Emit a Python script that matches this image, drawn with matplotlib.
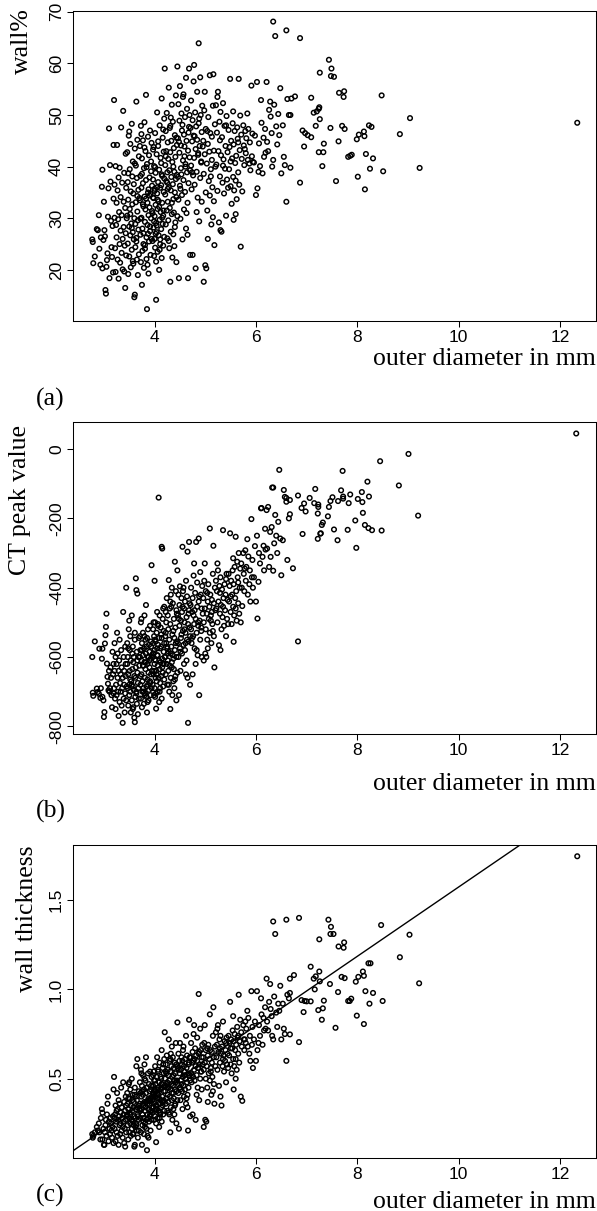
# three scatter plots of airway measurements against outer diameter
import numpy as np
import matplotlib
matplotlib.use("Agg")
import matplotlib.pyplot as plt

# points left of x~6.67, shared by all three panels
diam = [
    2.77, 2.78, 2.79, 2.82, 2.86, 2.88, 2.90, 2.91, 2.93, 2.94,
    2.96, 2.97, 2.97, 2.99, 3.00, 3.01, 3.02, 3.03, 3.04, 3.05,
    3.06, 3.07, 3.08, 3.09, 3.10, 3.11, 3.12, 3.13, 3.14, 3.15,
    3.16, 3.17, 3.18, 3.19, 3.19,
    3.20, 3.21, 3.21, 3.22, 3.23, 3.23, 3.24, 3.25, 3.25, 3.26,
    3.27, 3.27, 3.28, 3.29, 3.29, 3.30, 3.31, 3.31, 3.32, 3.33,
    3.33, 3.34, 3.35, 3.35, 3.36, 3.37, 3.37, 3.38, 3.39, 3.39,
    3.40, 3.40, 3.41, 3.42, 3.42, 3.43, 3.43, 3.44, 3.44, 3.45,
    3.46, 3.46, 3.47, 3.47, 3.48, 3.48, 3.49, 3.50, 3.50, 3.51,
    3.51, 3.52, 3.52, 3.53, 3.53, 3.54, 3.55, 3.55, 3.56, 3.56,
    3.57, 3.57, 3.58, 3.58, 3.59, 3.59, 3.60, 3.60, 3.61, 3.61,
    3.62, 3.62, 3.63, 3.63, 3.64, 3.64, 3.65, 3.65, 3.66, 3.66,
    3.67, 3.67, 3.68, 3.68, 3.69, 3.69, 3.70, 3.48, 3.52, 3.57,
    3.61, 3.64, 3.66, 3.50, 3.55,
    3.71, 3.71, 3.72, 3.72, 3.73, 3.73, 3.74, 3.74, 3.75, 3.75,
    3.76, 3.76, 3.77, 3.77, 3.78, 3.78, 3.79, 3.79, 3.80, 3.80,
    3.81, 3.81, 3.82, 3.82, 3.83, 3.83, 3.84, 3.84, 3.85, 3.85,
    3.86, 3.86, 3.87, 3.87, 3.88, 3.88, 3.89, 3.89, 3.90, 3.90,
    3.91, 3.91, 3.92, 3.92, 3.93, 3.93, 3.94, 3.94, 3.95, 3.95,
    3.72, 3.75, 3.78, 3.80, 3.83, 3.86, 3.88, 3.91, 3.93, 3.74,
    3.77, 3.81, 3.84, 3.87, 3.90,
    3.96, 3.96, 3.97, 3.97, 3.98, 3.98, 3.99, 3.99, 4.00, 4.00,
    4.00, 4.01, 4.01, 4.02, 4.02, 4.03, 4.03, 4.04, 4.04, 4.05,
    4.05, 4.06, 4.06, 4.07, 4.07, 4.08, 4.08, 4.09, 4.09, 4.10,
    4.10, 4.11, 4.11, 4.12, 4.12, 4.13, 4.13, 4.14, 4.14, 4.15,
    4.15, 4.16, 4.16, 4.17, 4.17, 4.18, 4.18, 4.19, 4.19, 4.20,
    3.97, 3.99, 4.01, 4.03, 4.05, 4.07, 4.09, 4.11, 4.13, 4.15,
    4.17, 4.19, 3.98, 4.02, 4.06, 4.10, 4.14, 4.18, 4.00, 4.04,
    4.21, 4.21, 4.22, 4.22, 4.23, 4.23, 4.24, 4.24, 4.25, 4.25,
    4.26, 4.26, 4.27, 4.27, 4.28, 4.28, 4.29, 4.29, 4.30, 4.30,
    4.31, 4.31, 4.32, 4.32, 4.33, 4.33, 4.34, 4.34, 4.35, 4.35,
    4.36, 4.36, 4.37, 4.37, 4.38, 4.38, 4.39, 4.39, 4.40, 4.40,
    4.41, 4.41, 4.42, 4.42, 4.43, 4.43, 4.44, 4.44, 4.45, 4.45,
    4.22, 4.25, 4.28, 4.31, 4.34, 4.37, 4.40, 4.43, 4.26, 4.32,
    4.46, 4.46, 4.47, 4.47, 4.48, 4.49, 4.49, 4.50, 4.50, 4.51,
    4.52, 4.52, 4.53, 4.54, 4.54, 4.55, 4.56, 4.56, 4.57, 4.58,
    4.58, 4.59, 4.60, 4.60, 4.61, 4.62, 4.62, 4.63, 4.64, 4.64,
    4.65, 4.66, 4.66, 4.67, 4.68, 4.68, 4.69, 4.70, 4.70, 4.48,
    4.51, 4.55, 4.59, 4.63, 4.67, 4.53, 4.57, 4.61, 4.65, 4.69,
    4.71, 4.72, 4.72, 4.73, 4.74, 4.75, 4.75, 4.76, 4.77, 4.78,
    4.78, 4.79, 4.80, 4.81, 4.81, 4.82, 4.83, 4.84, 4.84, 4.85,
    4.86, 4.87, 4.87, 4.88, 4.89, 4.90, 4.90, 4.91, 4.92, 4.93,
    4.93, 4.94, 4.95, 4.74, 4.79, 4.83, 4.88, 4.92, 4.77, 4.86,
    4.96, 4.97, 4.97, 4.98, 4.99, 5.00, 5.01, 5.01, 5.02, 5.03,
    5.04, 5.05, 5.05, 5.06, 5.07, 5.08, 5.09, 5.09, 5.10, 5.11,
    5.12, 5.13, 5.13, 5.14, 5.15, 5.16, 5.17, 5.17, 5.18, 5.19,
    5.20, 4.99, 5.04, 5.11, 5.15,
    5.21, 5.22, 5.23, 5.24, 5.25, 5.26, 5.27, 5.28, 5.29, 5.30,
    5.30, 5.31, 5.32, 5.33, 5.34, 5.35, 5.36, 5.37, 5.38, 5.39,
    5.40, 5.41, 5.42, 5.43, 5.44, 5.45, 5.24, 5.29, 5.35, 5.41,
    5.46, 5.47, 5.48, 5.49, 5.50, 5.51, 5.52, 5.53, 5.54, 5.55,
    5.56, 5.56, 5.57, 5.58, 5.59, 5.60, 5.61, 5.62, 5.63, 5.64,
    5.65, 5.66, 5.67, 5.68, 5.69, 5.70, 5.50, 5.55, 5.60, 5.65,
    5.71, 5.72, 5.73, 5.75, 5.76, 5.77, 5.79, 5.80, 5.81, 5.83,
    5.84, 5.85, 5.87, 5.88, 5.89, 5.91, 5.92, 5.93, 5.94, 5.78,
    5.96, 5.98, 6.00, 6.02, 6.03, 6.05, 6.06, 6.08, 6.10, 6.11,
    6.13, 6.15, 6.16, 6.18, 6.19,
    6.21, 6.22, 6.24, 6.26, 6.28, 6.29, 6.31, 6.32, 6.34, 6.34,
    6.36, 6.38, 6.40, 6.42, 6.44,
    6.46, 6.48, 6.50, 6.53, 6.55, 6.57, 6.60, 6.60, 6.62, 6.65,
]

wall_pct = [
    25.9, 25.4, 21.3, 22.6, 27.9, 27.7, 30.6, 24.1, 21.0, 26.3,
    36.1, 39.4, 20.3, 25.8, 33.2, 27.7, 26.5, 16.1, 15.4, 20.6,
    21.9, 23.2, 30.3, 35.8, 47.4, 18.4, 40.3, 37.1, 29.5, 24.4,
    22.5, 28.5, 19.5, 33.8, 44.2,
    52.9, 36.5, 30.1, 24.2, 40.1, 19.6, 28.7, 33.0, 26.3, 44.2,
    22.0, 35.4, 29.8, 18.3, 37.9, 31.2, 25.0, 39.8, 21.4, 27.6,
    34.1, 47.6, 23.3, 30.6, 36.9, 26.0, 20.1, 50.8, 33.2, 28.3,
    19.7, 38.8, 24.7, 16.5, 32.0, 42.5, 27.1, 35.9, 22.8, 30.0,
    30.5, 42.8, 25.1, 37.0, 19.2, 33.6, 46.0, 28.4, 22.6, 39.5,
    31.8, 26.7, 44.4, 20.5, 35.2, 29.0, 48.3, 23.9, 38.1, 32.7,
    27.3, 41.0, 21.2, 34.8, 25.9, 36.6, 14.7, 30.0, 15.2, 43.5,
    28.9, 24.4, 40.2, 33.1, 52.6, 26.2, 37.8, 22.0, 31.3, 45.2,
    29.6, 19.0, 35.5, 27.8, 42.0, 23.0, 33.9, 38.7, 30.8, 21.7,
    40.6, 25.5, 34.3, 46.8, 28.1,
    33.5, 44.0, 26.8, 38.2, 21.5, 47.9, 30.1, 35.9, 17.1, 41.6,
    28.0, 23.7, 36.8, 45.1, 32.3, 27.1, 39.7, 20.4, 34.2, 48.6,
    29.3, 24.8, 43.0, 31.7, 53.9, 37.4, 26.3, 22.1, 12.4, 40.5,
    33.0, 28.7, 45.8, 35.0, 19.3, 30.6, 42.2, 25.5, 37.9, 32.1,
    27.5, 47.0, 34.7, 22.9, 39.1, 30.0, 44.6, 26.0, 36.3, 31.4,
    29.9, 38.6, 25.0, 43.7, 33.8, 21.0, 35.6, 28.4, 41.0, 46.3,
    32.7, 24.1, 39.9, 27.0, 34.4,
    31.0, 25.6, 37.5, 43.3, 28.2, 33.9, 22.7, 40.1, 30.4, 26.0,
    35.3, 46.5, 24.3, 32.6, 38.8, 14.2, 29.1, 42.4, 27.3, 34.8,
    50.5, 23.5, 31.8, 37.0, 44.9, 26.7, 33.3, 20.0, 39.4, 29.7,
    48.0, 35.9, 25.0, 41.7, 31.2, 27.9, 36.4, 53.2, 22.3, 33.0,
    38.2, 45.6, 28.9, 30.5, 24.7, 42.9, 35.1, 26.4, 49.3, 59.0,
    34.0, 29.4, 39.9, 21.6, 36.0, 44.0, 32.2, 25.9, 40.7, 30.1,
    47.2, 37.7, 43.8, 27.0, 33.6, 23.9, 38.5, 31.5, 35.7, 28.6,
    40.3, 34.6, 46.9, 28.8, 37.2, 43.0, 31.5, 50.4, 26.1, 38.9,
    44.7, 33.2, 29.6, 41.5, 36.0, 55.3, 24.2, 39.3, 47.5, 32.0,
    17.7, 42.8, 35.4, 27.4, 45.0, 38.0, 30.8, 52.0, 22.4, 40.9,
    36.6, 48.7, 33.7, 26.9, 43.6, 31.1, 39.0, 24.6, 46.1, 35.0,
    41.9, 29.2, 37.6, 53.8, 34.1, 21.5, 44.2, 38.4, 59.4, 30.4,
    42.0, 36.9, 25.6, 47.9, 33.0, 40.0, 28.3, 45.6, 35.7, 49.5,
    45.5, 38.0, 52.1, 33.6, 18.4, 42.7, 48.9, 36.3, 55.6, 29.9,
    44.1, 39.7, 50.3, 34.5, 47.0, 25.9, 41.2, 53.5, 37.4, 46.2,
    31.7, 43.9, 49.6, 35.1, 40.5, 57.2, 28.0, 45.0, 38.9, 51.2,
    33.0, 18.4, 43.1, 36.8, 59.0, 47.7, 41.8, 22.9, 39.3, 44.8,
    35.7, 48.1, 42.0, 31.0, 46.6, 38.5, 54.0, 40.0, 26.8, 50.0,
    47.5, 40.2, 52.8, 35.6, 44.9, 22.9, 49.0, 38.3, 46.0, 59.7,
    41.7, 36.5, 50.5, 43.4, 20.3, 47.8, 39.0, 54.5, 45.2, 34.0,
    42.6, 63.9, 48.4, 29.4, 44.0, 57.3, 37.8, 50.0, 41.0, 46.7,
    33.2, 51.8, 43.9, 38.9, 45.9, 31.2, 49.3, 40.8, 56.5, 42.3,
    45.0, 38.6, 17.7, 50.9, 42.4, 20.9, 35.0, 47.3, 20.3, 40.6,
    31.5, 44.4, 26.0, 49.6, 37.2, 42.9, 57.7, 34.4, 46.5, 39.5,
    28.8, 45.8, 41.3, 36.0, 51.8, 57.9, 43.1, 33.3, 24.8, 48.2,
    40.0, 54.5, 46.9, 38.1, 30.2,
    51.9, 40.4, 46.6, 35.3, 54.5, 43.0, 29.2, 48.7, 38.1, 27.7,
    50.6, 42.2, 27.4, 45.7, 36.9, 52.3, 41.4, 34.8, 47.9, 39.6,
    44.0, 30.5, 49.8, 37.5, 42.8, 35.9, 53.5, 45.1, 40.2, 48.0,
    47.1, 39.5, 43.8, 57.0, 36.2, 45.0, 32.8, 41.6, 48.4, 38.0,
    29.7, 44.3, 35.4, 46.9, 40.7, 30.8, 42.1, 33.7, 47.6, 45.4,
    38.9, 57.0, 36.5, 43.2, 49.9, 24.5, 41.0, 50.7, 37.3, 44.7,
    46.2, 41.5, 35.2, 48.0, 44.1, 40.3, 46.9, 42.6, 45.5, 50.3,
    41.3, 47.3, 40.6, 44.7, 39.3, 55.7, 42.0, 46.4, 40.9, 43.4,
    40.8, 46.0, 34.5, 56.4, 35.8, 39.0, 44.5, 40.1, 52.9, 48.5,
    38.7, 45.6, 41.9, 47.3, 42.7,
    56.4, 44.8, 43.0, 51.0, 52.6, 49.7, 46.5, 40.0, 68.1, 41.3,
    52.0, 65.3, 47.8, 44.3, 50.2,
    46.1, 55.2, 38.7, 48.0, 41.9, 40.3, 66.4, 33.2, 53.1, 50.0,
]

ct_peak = [
    -600, -703, -712, -555, -691, -701, -706, -576, -718, -690,
    -605, -576, -715, -725, -773, -759, -561, -537, -513, -475,
    -619, -657, -677, -696, -640, -700, -690, -630, -660, -710,
    -745, -585, -650, -705, -620,
    -690, -640, -560, -720, -600, -750, -680, -620, -710, -530,
    -660, -590, -700, -770, -640, -610, -730, -550, -675, -650,
    -700, -580, -740, -630, -690, -790, -660, -470, -720, -600,
    -640, -680, -760, -570, -705, -620, -655, -725, -400, -685,
    -620, -560, -690, -600, -740, -650, -520, -680, -710, -580,
    -640, -700, -540, -760, -610, -670, -480, -725, -590, -635,
    -685, -570, -745, -615, -695, -600, -775, -655, -788, -550,
    -660, -715, -373, -630, -407, -705, -585, -735, -645, -417,
    -675, -765, -600, -690, -545, -720, -625, -575, -665, -750,
    -530, -700, -610, -495, -680,
    -600, -540, -680, -580, -720, -500, -650, -610, -745, -560,
    -670, -700, -595, -530, -625, -690, -575, -735, -615, -480,
    -660, -705, -550, -635, -450, -590, -685, -715, -760, -545,
    -620, -665, -520, -600, -725, -645, -565, -695, -585, -630,
    -675, -510, -605, -710, -570, -650, -335, -690, -595, -640,
    -655, -580, -700, -540, -615, -730, -600, -670, -555, -490,
    -625, -710, -570, -680, -610,
    -600, -680, -560, -520, -650, -590, -710, -540, -620, -690,
    -580, -500, -715, -610, -555, -749, -640, -530, -670, -595,
    -470, -700, -625, -565, -505, -660, -140, -730, -545, -635,
    -480, -575, -690, -515, -615, -655, -570, -282, -720, -605,
    -287, -490, -645, -620, -685, -525, -585, -665, -455, -600,
    -590, -640, -550, -705, -575, -510, -610, -675, -535, -630,
    -460, -560, -500, -660, -595, -700, -545, -620, -380, -650,
    -540, -600, -470, -650, -560, -500, -620, -430, -680, -575,
    -480, -610, -640, -520, -585, -378, -700, -550, -460, -625,
    -750, -505, -590, -660, -455, -570, -630, -400, -710, -535,
    -595, -445, -605, -670, -490, -635, -545, -690, -325, -580,
    -515, -655, -560, -410, -600, -725, -475, -555, -350, -645,
    -530, -570, -680, -440, -615, -525, -665, -465, -590, -420,
    -480, -560, -420, -600, -710, -510, -450, -575, -396, -640,
    -495, -545, -430, -590, -470, -282, -525, -410, -565, -460,
    -620, -500, -440, -580, -530, -380, -650, -485, -550, -425,
    -296, -790, -505, -555, -268, -465, -515, -680, -540, -490,
    -585, -455, -520, -610, -475, -535, -400, -560, -660, -445,
    -450, -520, -400, -560, -470, -650, -430, -540, -480, -330,
    -505, -575, -415, -490, -620, -268, -530, -385, -455, -595,
    -510, -258, -440, -710, -495, -355, -550, -420, -525, -460,
    -600, -395, -475, -545, -465, -580, -425, -515, -365, -500,
    -430, -500, -610, -380, -460, -590, -520, -410, -600, -475,
    -550, -440, -575, -390, -490, -455, -229, -530, -420, -480,
    -560, -435, -470, -505, -360, -279, -445, -540, -630, -400,
    -465, -330, -415, -495, -525,
    -380, -460, -410, -500, -350, -440, -566, -395, -475, -580,
    -370, -450, -520, -405, -485, -234, -430, -510, -390, -465,
    -420, -540, -360, -490, -435, -505, -330, -415, -455, -375,
    -360, -440, -395, -243, -470, -380, -505, -420, -350, -455,
    -556, -390, -480, -340, -430, -253, -410, -495, -325, -370,
    -445, -300, -475, -400, -345, -500, -425, -315, -460, -385,
    -330, -400, -453, -300, -360, -410, -292, -380, -340, -260,
    -420, -310, -390, -350, -440, -202, -370, -320, -400, -345,
    -370, -280, -440, -250, -489, -383, -300, -330, -171, -170,
    -311, -279, -350, -230, -290,
    -176, -287, -167, -340, -239, -311, -225, -111, -111, -351,
    -272, -190, -250, -300, -210,
    -60, -258, -364, -263, -118, -138, -152, -141, -320, -200,
]

wall_thick = [
    0.19, 0.17, 0.18, 0.20, 0.23, 0.21, 0.25, 0.20, 0.16, 0.28,
    0.33, 0.31, 0.16, 0.22, 0.13, 0.13, 0.20, 0.24, 0.27, 0.18,
    0.30, 0.36, 0.40, 0.15, 0.26, 0.22, 0.19, 0.28, 0.25, 0.21,
    0.17, 0.23, 0.29, 0.14, 0.44,
    0.51, 0.28, 0.22, 0.30, 0.35, 0.15, 0.26, 0.32, 0.20, 0.42,
    0.18, 0.33, 0.27, 0.13, 0.38, 0.29, 0.24, 0.36, 0.19, 0.31,
    0.25, 0.45, 0.21, 0.34, 0.28, 0.17, 0.23, 0.48, 0.30, 0.26,
    0.14, 0.37, 0.22, 0.12, 0.32, 0.40, 0.27, 0.35, 0.20, 0.29,
    0.30, 0.42, 0.24, 0.36, 0.16, 0.33, 0.47, 0.28, 0.20, 0.39,
    0.31, 0.25, 0.44, 0.18, 0.35, 0.27, 0.50, 0.22, 0.38, 0.32,
    0.26, 0.41, 0.19, 0.34, 0.24, 0.37, 0.12, 0.29, 0.13, 0.45,
    0.28, 0.23, 0.40, 0.33, 0.57, 0.25, 0.38, 0.21, 0.30, 0.61,
    0.29, 0.17, 0.35, 0.27, 0.43, 0.21, 0.33, 0.39, 0.30, 0.19,
    0.41, 0.24, 0.34, 0.48, 0.27,
    0.36, 0.48, 0.28, 0.42, 0.20, 0.55, 0.33, 0.40, 0.13, 0.46,
    0.30, 0.24, 0.41, 0.52, 0.35, 0.28, 0.44, 0.19, 0.37, 0.58,
    0.32, 0.25, 0.49, 0.34, 0.62, 0.42, 0.27, 0.22, 0.10, 0.45,
    0.36, 0.30, 0.53, 0.38, 0.17, 0.33, 0.47, 0.26, 0.43, 0.35,
    0.29, 0.54, 0.39, 0.21, 0.44, 0.32, 0.51, 0.27, 0.40, 0.34,
    0.32, 0.43, 0.26, 0.50, 0.37, 0.18, 0.39, 0.30, 0.46, 0.53,
    0.36, 0.23, 0.45, 0.28, 0.38,
    0.38, 0.31, 0.46, 0.52, 0.34, 0.41, 0.27, 0.49, 0.37, 0.32,
    0.43, 0.57, 0.29, 0.40, 0.47, 0.145, 0.35, 0.51, 0.33, 0.42,
    0.62, 0.28, 0.39, 0.45, 0.55, 0.32, 0.41, 0.23, 0.48, 0.36,
    0.59, 0.44, 0.30, 0.51, 0.38, 0.34, 0.45, 0.66, 0.26, 0.40,
    0.47, 0.56, 0.35, 0.37, 0.30, 0.53, 0.43, 0.32, 0.61, 0.76,
    0.42, 0.36, 0.49, 0.25, 0.44, 0.54, 0.39, 0.31, 0.50, 0.37,
    0.58, 0.46, 0.54, 0.33, 0.41, 0.28, 0.47, 0.38, 0.44, 0.35,
    0.50, 0.43, 0.58, 0.36, 0.46, 0.53, 0.39, 0.63, 0.32, 0.48,
    0.55, 0.41, 0.37, 0.52, 0.45, 0.72, 0.30, 0.49, 0.60, 0.40,
    0.20, 0.54, 0.44, 0.34, 0.57, 0.47, 0.38, 0.68, 0.27, 0.51,
    0.46, 0.62, 0.42, 0.33, 0.56, 0.39, 0.49, 0.30, 0.59, 0.44,
    0.53, 0.36, 0.48, 0.70, 0.43, 0.25, 0.57, 0.49, 0.815, 0.38,
    0.54, 0.47, 0.31, 0.61, 0.42, 0.52, 0.35, 0.58, 0.45, 0.64,
    0.56, 0.47, 0.64, 0.42, 0.22, 0.53, 0.60, 0.45, 0.70, 0.38,
    0.55, 0.49, 0.62, 0.43, 0.58, 0.33, 0.51, 0.66, 0.46, 0.57,
    0.40, 0.54, 0.61, 0.44, 0.50, 0.74, 0.36, 0.56, 0.48, 0.63,
    0.41, 0.21, 0.53, 0.45, 0.83, 0.59, 0.52, 0.29, 0.49, 0.55,
    0.44, 0.60, 0.52, 0.39, 0.58, 0.47, 0.68, 0.50, 0.34, 0.62,
    0.62, 0.53, 0.70, 0.48, 0.59, 0.30, 0.65, 0.51, 0.60, 0.80,
    0.55, 0.49, 0.67, 0.57, 0.27, 0.63, 0.52, 0.73, 0.60, 0.45,
    0.56, 0.974, 0.64, 0.38, 0.58, 0.78, 0.50, 0.66, 0.54, 0.62,
    0.44, 0.69, 0.58, 0.52, 0.61, 0.41, 0.65, 0.54, 0.75, 0.56,
    0.62, 0.55, 0.23, 0.70, 0.59, 0.27, 0.50, 0.66, 0.26, 0.57,
    0.45, 0.63, 0.37, 0.69, 0.53, 0.61, 0.86, 0.49, 0.66, 0.56,
    0.41, 0.65, 0.59, 0.51, 0.74, 0.90, 0.62, 0.47, 0.36, 0.68,
    0.57, 0.80, 0.67, 0.54, 0.43,
    0.76, 0.62, 0.69, 0.55, 0.80, 0.65, 0.46, 0.72, 0.59, 0.40,
    0.74, 0.64, 0.35, 0.68, 0.57, 0.82, 0.63, 0.54, 0.71, 0.60,
    0.66, 0.48, 0.73, 0.58, 0.64, 0.56, 0.78, 0.67, 0.61, 0.70,
    0.74, 0.63, 0.70, 0.93, 0.58, 0.72, 0.53, 0.67, 0.77, 0.61,
    0.44, 0.71, 0.57, 0.75, 0.66, 0.50, 0.69, 0.55, 0.79, 0.73,
    0.64, 0.97, 0.59, 0.71, 0.83, 0.40, 0.67, 0.85, 0.61, 0.74,
    0.76, 0.68, 0.376, 0.80, 0.72, 0.66, 0.82, 0.70, 0.78, 0.88,
    0.68, 0.84, 0.64, 0.74, 0.60, 0.99, 0.69, 0.79, 0.56, 0.72,
    0.72, 0.82, 0.60, 0.99, 0.66, 0.70, 0.80, 0.74, 0.95, 0.86,
    0.69, 0.84, 0.77, 0.90, 0.78,
    1.06, 0.82, 0.77, 0.93, 1.03, 0.89, 0.85, 0.74, 1.38, 0.72,
    0.96, 1.31, 0.87, 0.79, 0.92,
    0.88, 1.02, 0.72, 0.92, 0.78, 0.75, 1.39, 0.60, 0.97, 0.95,
]

# sparse right-hand part
diam_a_tail = [6.68, 6.68, 6.70, 6.77, 6.87, 6.87, 6.92, 6.95, 6.97, 7.02,
               7.09, 7.09, 7.14, 7.18, 7.20, 7.24, 7.24, 7.25, 7.26, 7.26,
               7.31, 7.33, 7.34, 7.44, 7.47, 7.48, 7.49, 7.54, 7.58, 7.63,
               7.64, 7.70, 7.73, 7.74, 7.75, 7.82, 7.86, 7.89, 7.99, 8.01,
               8.03, 8.13, 8.14, 8.15, 8.17, 8.23, 8.25, 8.28, 8.31, 8.48,
               8.51, 8.84, 9.04, 9.23, 12.34]
wall_pct_tail = [50.0, 39.8, 53.2, 53.6, 64.9, 36.9, 47.0, 43.9, 46.5, 46.1,
                 53.35, 45.7, 50.45, 47.9, 50.7, 51.2, 42.8, 51.5, 58.2, 49.2,
                 40.1, 42.8, 44.45, 60.7, 47.5, 57.55, 59.0, 57.4, 37.2, 44.9,
                 54.3, 47.9, 53.5, 54.6, 47.3, 41.9, 42.1, 42.3, 45.3, 38.05,
                 46.2, 46.8, 45.9, 35.6, 42.45, 48.0, 39.6, 47.7, 41.6, 53.8,
                 39.1, 46.3, 49.4, 39.75, 48.5]

diam_b_tail = [6.67, 6.67, 6.73, 6.83, 6.83, 6.90, 6.92, 6.95, 6.98, 7.06,
               7.15, 7.17, 7.22, 7.22, 7.23, 7.23, 7.27, 7.28, 7.30, 7.32,
               7.42, 7.44, 7.47, 7.51, 7.54, 7.61, 7.62, 7.68, 7.71, 7.72,
               7.72, 7.81, 7.83, 7.86, 7.96, 7.98, 8.01, 8.09, 8.10, 8.11,
               8.15, 8.20, 8.22, 8.23, 8.29, 8.45, 8.48, 8.82, 9.01, 9.20,
               12.32]
ct_peak_tail = [-147, -188, -344, -134, -555, -170, -245, -157, -180, -141,
                -156, -115, -186, -259, -160, -167, -244, -243, -219, -212,
                -194, -167, -150, -139, -232, -263, -150, -119, -63, -137,
                -143, -233, -156, -131, -206, -285, -144, -124, -153, -184,
                -219, -94, -228, -137, -234, -35, -235, -105, -14, -192,
                45]

diam_c_tail = [6.67, 6.67, 6.67, 6.75, 6.85, 6.85, 6.90, 6.94, 6.96, 7.00,
               7.08, 7.08, 7.14, 7.16, 7.18, 7.23, 7.25, 7.25, 7.26, 7.30,
               7.32, 7.34, 7.43, 7.46, 7.47, 7.48, 7.53, 7.57, 7.62, 7.63,
               7.69, 7.73, 7.74, 7.75, 7.82, 7.85, 7.88, 7.97, 7.99, 8.02,
               8.11, 8.13, 8.13, 8.16, 8.22, 8.24, 8.26, 8.31, 8.47, 8.50,
               8.84, 9.03, 9.22, 12.34]
wall_thick_tail = [1.06, 0.98, 0.748, 1.08, 1.40, 0.705, 0.94, 0.873, 0.935, 0.933,
                   1.127, 0.933, 1.06, 1.0, 1.073, 0.884, 1.28, 1.10, 1.045, 0.83,
                   0.894, 0.937, 1.39, 1.03, 1.31, 1.35, 1.31, 0.785, 0.985, 1.24,
                   1.07, 1.233, 1.263, 1.063, 0.935, 0.935, 0.948, 1.043, 0.853, 1.07,
                   1.10, 1.076, 0.806, 0.99, 1.146, 0.92, 1.146, 0.98, 1.36, 0.935,
                   1.18, 1.306, 1.034, 1.745]

# fitted line drawn in panel (c)
fit_intercept = -0.367
fit_slope = 0.194

x_ticks = [4, 6, 8, 10, 12]
wall_ticks = [20, 30, 40, 50, 60, 70]
ct_ticks = [-800, -600, -400, -200, 0]
thick_ticks = [0.5, 1.0, 1.5]
thick_tick_labels = ["0.5", "1.0", "1.5"]

# ---- figure layout (pixel based, 597 x 1211) ----
W, H = 597, 1211
fig = plt.figure(figsize=(W / 100, H / 100), dpi=100)

def px_rect(l, t, r, b):
    return [l / W, 1 - b / H, (r - l) / W, (b - t) / H]

serif = "Liberation Serif"
sans = "Liberation Sans"
lab_size = 18.5

panels = [
    dict(rect=px_rect(73, 11, 596, 321),
         x=np.concatenate([diam, diam_a_tail]), y=np.concatenate([wall_pct, wall_pct_tail]),
         ylim=(10.1, 70.15), yticks=wall_ticks, ylabels=[str(v) for v in wall_ticks],
         ylabel="wall%", ylab_xy=(-0.086, 1.01), xlab_y=-0.142, tag="(a)", tag_y=405.5),
    dict(rect=px_rect(73, 421.7, 596, 734.3),
         x=np.concatenate([diam, diam_b_tail]), y=np.concatenate([ct_peak, ct_peak_tail]),
         ylim=(-823, 79), yticks=ct_ticks, ylabels=[str(v) for v in ct_ticks],
         ylabel="CT peak value", ylab_xy=(-0.09, 0.99), xlab_y=-0.178, tag="(b)", tag_y=817.5),
    dict(rect=px_rect(73, 845, 596, 1157.7),
         x=np.concatenate([diam, diam_c_tail]), y=np.concatenate([wall_thick, wall_thick_tail]),
         ylim=(0.058, 1.808), yticks=thick_ticks, ylabels=thick_tick_labels,
         ylabel="wall thickness", ylab_xy=(-0.0765, 1.0), xlab_y=-0.161, tag="(c)", tag_y=1202),
]

for i, p in enumerate(panels):
    ax = fig.add_axes(p["rect"])
    ax.scatter(p["x"], p["y"], s=11, facecolors="none", edgecolors="black",
               linewidths=1.05, zorder=2)
    if i == 2:
        ax.axline((0, fit_intercept), slope=fit_slope, color="black", lw=1.0, zorder=3)

    ax.set_xlim(2.39, 12.71)
    ax.set_ylim(*p["ylim"])
    ax.set_xticks(x_ticks)
    ax.set_xticklabels([str(v) for v in x_ticks], fontfamily=sans, fontsize=12.5)
    ax.set_yticks(p["yticks"])
    ax.set_yticklabels(p["ylabels"], fontfamily=sans, fontsize=12.5,
                       rotation=90, va="center")
    ax.tick_params(length=4.5, width=0.75, pad=2, direction="out")
    for s in ax.spines.values():
        s.set_linewidth(0.75)

    ax.set_xlabel("outer diameter in mm", fontfamily=serif, fontsize=lab_size,
                  loc="right", va="baseline")
    ax.xaxis.set_label_coords(1.0, p["xlab_y"])
    ax.set_ylabel(p["ylabel"], fontfamily=serif, fontsize=lab_size,
                  loc="top", va="baseline")
    ax.yaxis.set_label_coords(*p["ylab_xy"])

    fig.text(36 / W, 1 - p["tag_y"] / H, p["tag"], fontfamily=serif,
             fontsize=lab_size, ha="left", va="baseline")

fig.savefig("out.png", dpi=100)
